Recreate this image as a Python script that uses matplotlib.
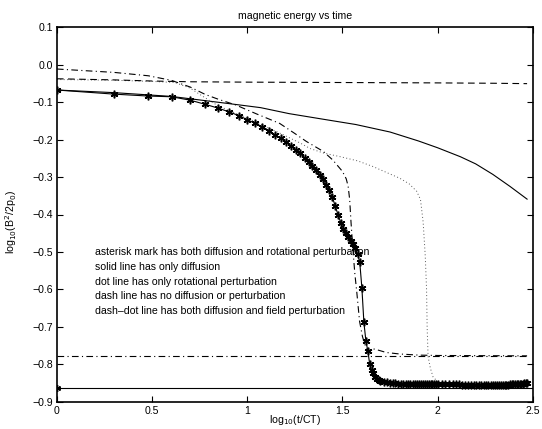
import numpy as np
import matplotlib
matplotlib.use("Agg")
import matplotlib.pyplot as plt

plt.rcParams["font.family"] = ["Liberation Sans", "DejaVu Sans"]

# asterisk curve: diffusion + rotational perturbation, sampled at integer t
ast_t = list(range(1, 51)) + list(range(52, 101, 2)) + list(range(105, 296, 5))
ast_y = [-0.068, -0.079, -0.084, -0.086, -0.095, -0.106, -0.116, -0.126, -0.136, -0.147,
         -0.157, -0.166, -0.176, -0.188, -0.197, -0.206, -0.217, -0.227, -0.237, -0.249,
         -0.259, -0.270, -0.281, -0.294, -0.306, -0.320, -0.335, -0.354, -0.378, -0.401,
         -0.422, -0.438, -0.450, -0.461, -0.471, -0.480, -0.490, -0.505, -0.528, -0.595,
         -0.688, -0.737, -0.764, -0.800, -0.815, -0.824, -0.833, -0.838, -0.842, -0.845,
         # t = 52..100 step 2
         -0.847, -0.848, -0.849, -0.850, -0.850, -0.851, -0.851, -0.851, -0.852, -0.852,
         -0.852, -0.852, -0.852, -0.853, -0.853, -0.853, -0.853, -0.853, -0.853, -0.853,
         -0.853, -0.853, -0.853, -0.853, -0.853,
         # t = 105..295 step 5
         -0.853, -0.853, -0.853, -0.853, -0.853, -0.853, -0.854, -0.854, -0.854, -0.854,
         -0.854, -0.854, -0.854, -0.854, -0.854, -0.854, -0.854, -0.854, -0.854, -0.854,
         -0.854, -0.854, -0.854, -0.854, -0.854, -0.854, -0.854, -0.853, -0.853, -0.853,
         -0.853, -0.852, -0.852, -0.852, -0.851, -0.851, -0.850, -0.850, -0.849]

# solid: only diffusion
sol_x = [0, 0.3, 0.6, 0.9, 1.07, 1.22, 1.4, 1.57, 1.75, 1.9, 2.0, 2.12, 2.2, 2.29, 2.38, 2.47]
sol_y = [-0.068, -0.075, -0.085, -0.104, -0.115, -0.131, -0.146, -0.160, -0.180, -0.204,
         -0.222, -0.246, -0.265, -0.293, -0.325, -0.359]

# dotted: only rotational perturbation
dot_x = [0, 0.3, 0.5, 0.62, 0.70, 0.77, 0.84, 0.9, 1.0, 1.1, 1.2, 1.28, 1.33, 1.4, 1.49,
         1.58, 1.66, 1.75, 1.80, 1.85, 1.89, 1.91, 1.924, 1.935, 1.942, 1.945, 1.95, 1.962,
         1.976, 2.0, 2.05, 2.2, 2.47]
dot_y = [-0.040, -0.042, -0.045, -0.048, -0.063, -0.086, -0.108, -0.122, -0.143, -0.166,
         -0.190, -0.210, -0.224, -0.236, -0.246, -0.257, -0.272, -0.292, -0.303, -0.318,
         -0.338, -0.360, -0.420, -0.510, -0.600, -0.700, -0.779, -0.810, -0.833, -0.846,
         -0.851, -0.852, -0.851]

# dashed: no diffusion or perturbation
dsh_x = [0, 0.3, 0.5, 0.7, 1.0, 1.5, 2.0, 2.3, 2.47]
dsh_y = [-0.038, -0.041, -0.044, -0.046, -0.047, -0.048, -0.049, -0.050, -0.051]

# dash-dot: diffusion + field perturbation
dd_x = [0, 0.3, 0.48, 0.6, 0.7, 0.78, 0.85, 0.94, 1.05, 1.17, 1.25, 1.31, 1.40, 1.45,
        1.50, 1.52, 1.53, 1.538, 1.545, 1.553, 1.565, 1.575, 1.59, 1.605, 1.617, 1.635,
        1.66, 1.69, 1.73, 1.8, 1.9, 2.0, 2.47]
dd_y = [-0.012, -0.021, -0.030, -0.042, -0.060, -0.080, -0.093, -0.108, -0.132, -0.157,
        -0.184, -0.205, -0.232, -0.255, -0.285, -0.305, -0.325, -0.360, -0.420, -0.480,
        -0.557, -0.605, -0.685, -0.725, -0.746, -0.766, -0.758, -0.762, -0.768, -0.772,
        -0.775, -0.776, -0.777]

# reference levels
ref_dd = -0.777
ref_solid = -0.862

notes = ["asterisk mark has both diffusion and rotational perturbation",
         "solid line has only diffusion",
         "dot line has only rotational perturbation",
         "dash line has no diffusion or perturbation",
         "dash\u2013dot line has both diffusion and field perturbation"]

FS = 7.6
dashdot = (0, (6, 3, 1, 3))
fig = plt.figure(figsize=(5.42, 4.29), dpi=100)
ax = fig.add_axes([0.105, 0.063, 0.878, 0.874])

lw = 0.8
ax.plot([0, 2.5], [ref_solid, ref_solid], "k-", lw=lw)
ax.plot([0], [ref_solid], "k", ls="none", marker=(6, 2, 0), ms=5, mew=1)
ax.plot([0, 2.47], [ref_dd, ref_dd], color="k", ls=dashdot, lw=lw)
ax.plot(sol_x, sol_y, "k-", lw=lw)
ax.plot(dot_x, dot_y, color="0.35", ls=(0, (1, 2.5)), lw=0.7)
ax.plot(dsh_x, dsh_y, color="k", ls=(0, (6, 4)), lw=lw)
ax.plot(dd_x, dd_y, color="k", ls=dashdot, lw=lw)
ax.plot(np.log10(ast_t), ast_y, "k-", lw=lw, marker=(6, 2, 0), ms=5.5, mew=1.1)

ax.text(0.2, -0.488, "\n".join(notes), fontsize=FS, va="top", linespacing=1.58)

ax.set_xlim(0, 2.5)
ax.set_ylim(-0.9, 0.1)
ax.set_xticks(np.arange(0, 2.51, 0.5))
ax.set_xticklabels(["0", "0.5", "1", "1.5", "2", "2.5"])
ax.set_yticks(np.round(np.arange(-0.9, 0.11, 0.1), 1))
ax.tick_params(direction="in", length=4, width=0.8, labelsize=FS, top=True, right=True,
               pad=3)
for s in ax.spines.values():
    s.set_linewidth(1.2)
ax.set_title("magnetic energy vs time", fontsize=FS, pad=6)
ax.set_xlabel(r"log$_{10}$(t/CT)", fontsize=FS)
ax.xaxis.set_label_coords(0.5, -0.03)
ax.set_ylabel(r"log$_{10}$(B$^2$/2p$_0$)", fontsize=FS)
ax.yaxis.set_label_coords(-0.08, 0.48)

fig.savefig("out.png", dpi=100)
